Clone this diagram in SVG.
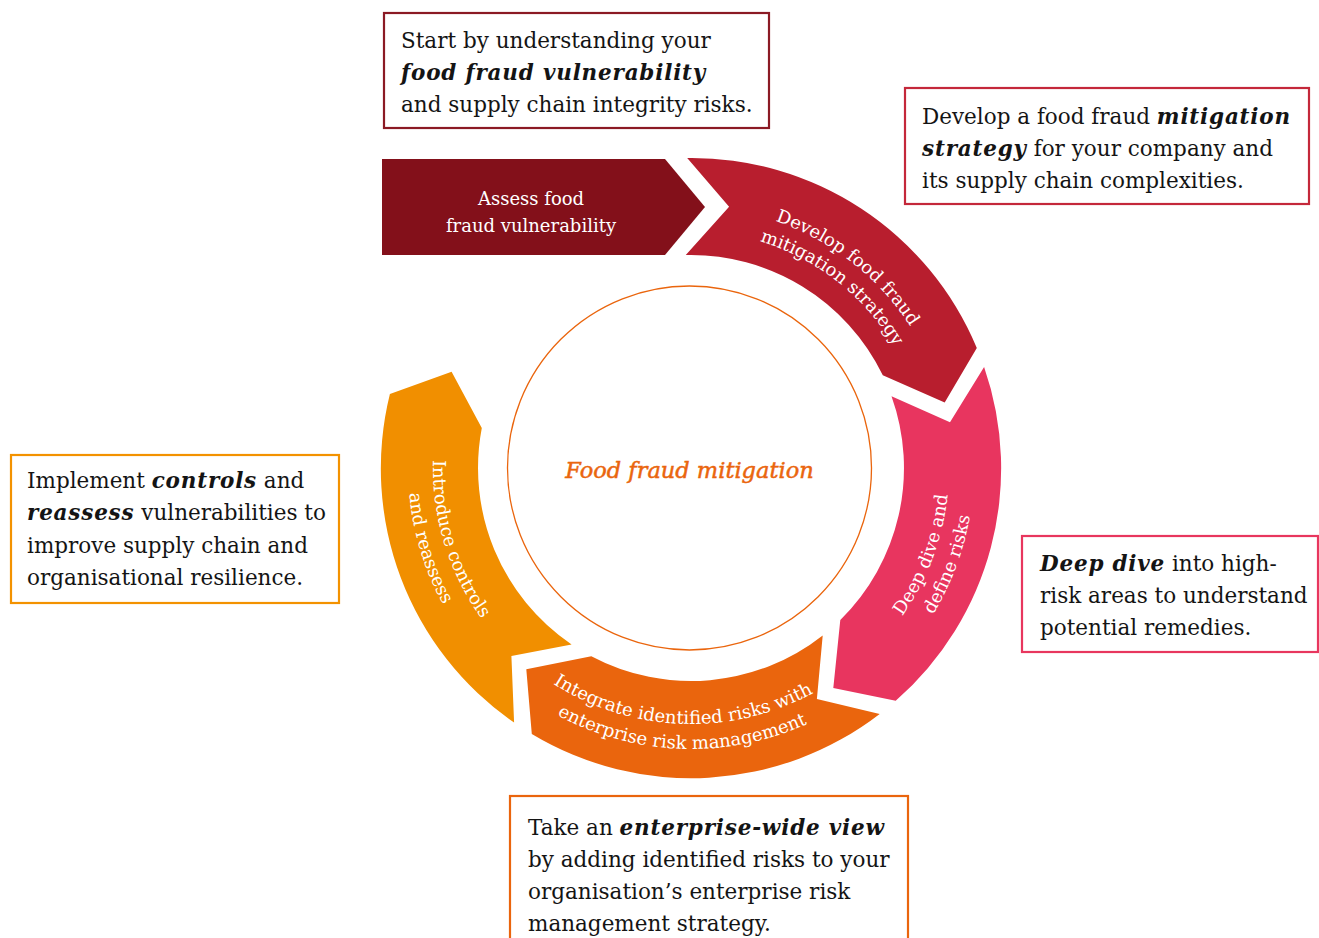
<svg xmlns="http://www.w3.org/2000/svg" width="1319" height="938" viewBox="0 0 1319 938">
<style>
.box{fill:#fff;stroke-width:2.2}
.bt{font-family:"DejaVu Serif","Liberation Serif",serif;font-size:21.5px;fill:#141414}
.bi{font-weight:bold;font-style:italic;letter-spacing:0.8px}
.seg{stroke:none}
.lbl{font-family:"DejaVu Serif","Liberation Serif",serif;font-size:18px;fill:#fff}
</style>
<defs>
<path id="pDev1" d="M727.3,209.5 A261,261 0 0 1 933.0,370.2"/>
<path id="pDev2" d="M724.0,233.3 A237,237 0 0 1 910.7,379.2"/>
<path id="pPink1" d="M855.1,667.1 A258,258 0 0 0 945.5,425.4"/>
<path id="pPink2" d="M871.0,686.4 A283,283 0 0 0 970.1,421.3"/>
<path id="pInt1" d="M519.7,658.2 A256,256 0 0 0 848.6,669.7"/>
<path id="pInt2" d="M503.0,676.8 A281,281 0 0 0 864.0,689.4"/>
<path id="pCtl1" d="M445.6,388.3 A258,258 0 0 0 532.2,671.3"/>
<path id="pCtl2" d="M421.9,380.6 A283,283 0 0 0 516.8,691.0"/>
</defs>

<g id="node-center">
<circle cx="689.5" cy="468" r="182" fill="#fff" stroke="#ea650d" stroke-width="1.3"/>
<text x="689.5" y="478" text-anchor="middle" font-family="DejaVu Serif, Liberation Serif, serif" font-size="22.5" font-style="italic" fill="#ea650d" stroke="#ea650d" stroke-width="0.5">Food fraud mitigation</text>
</g>

<g id="node-assess">
<path class="seg" fill="#83101a" d="M382,159 L665,159 L705,207 L665,255 L382,255 Z"/>
<text class="lbl" x="531" y="205" text-anchor="middle">Assess food</text>
<text class="lbl" x="531" y="232" text-anchor="middle">fraud vulnerability</text>
</g>

<g id="node-develop">
<path class="seg" fill="#b81e2e" d="M687.2,158 A309,309 0 0 1 976.8,347.9 L944.7,402.4 L882.8,375.3 A213,213 0 0 0 685.8,255.1 L729.1,206.8 Z"/>
<text class="lbl"><textPath href="#pDev1" startOffset="50%" text-anchor="middle">Develop food fraud</textPath></text>
<text class="lbl"><textPath href="#pDev2" startOffset="50%" text-anchor="middle">mitigation strategy</textPath></text>
</g>

<g id="node-deepdive">
<path class="seg" fill="#e8355f" d="M984.1,367.1 A309,309 0 0 1 895.7,700.8 L833.3,688.0 L840.3,619.9 A213,213 0 0 0 891.5,396.2 L950.0,422.3 Z"/>
<text class="lbl"><textPath href="#pPink1" startOffset="50%" text-anchor="middle">Deep dive and</textPath></text>
<text class="lbl"><textPath href="#pPink2" startOffset="50%" text-anchor="middle">define risks</textPath></text>
</g>

<g id="node-integrate">
<path class="seg" fill="#ea650d" d="M879.7,713.9 A309,309 0 0 1 531.8,734.0 L526.3,669.2 L591.3,656.2 A213,213 0 0 0 822.7,635.4 L816.9,698.9 Z"/>
<text class="lbl"><textPath href="#pInt1" startOffset="50%" text-anchor="middle">Integrate identified risks with</textPath></text>
<text class="lbl"><textPath href="#pInt2" startOffset="50%" text-anchor="middle">enterprise risk management</textPath></text>
</g>

<g id="node-controls">
<path class="seg" fill="#f18f00" d="M514.1,722.6 A309,309 0 0 1 389.9,394.1 L451.6,371.8 L481.8,428.1 A213,213 0 0 0 571.6,644.4 L511.4,656.0 Z"/>
<text class="lbl"><textPath href="#pCtl1" startOffset="50%" text-anchor="middle">Introduce controls</textPath></text>
<text class="lbl"><textPath href="#pCtl2" startOffset="50%" text-anchor="middle">and reassess</textPath></text>
</g>

<g id="node-box-assess">
<rect class="box" x="384" y="13" width="385" height="115" stroke="#8b1a24"/>
<text class="bt" x="401" y="48">Start by understanding your</text>
<text class="bt bi" x="401" y="80">food fraud vulnerability</text>
<text class="bt" x="401" y="112">and supply chain integrity risks.</text>
</g>

<g id="node-box-develop">
<rect class="box" x="905" y="88" width="404" height="116" stroke="#c4283a"/>
<text class="bt" x="922" y="124">Develop a food fraud <tspan class="bi">mitigation</tspan></text>
<text class="bt" x="922" y="156"><tspan class="bi">strategy</tspan> for your company and</text>
<text class="bt" x="922" y="188">its supply chain complexities.</text>
</g>

<g id="node-box-controls">
<rect class="box" x="11" y="455" width="328" height="148" stroke="#f39200"/>
<text class="bt" x="27" y="488">Implement <tspan class="bi">controls</tspan> and</text>
<text class="bt" x="27" y="520"><tspan class="bi">reassess</tspan> vulnerabilities to</text>
<text class="bt" x="27" y="553">improve supply chain and</text>
<text class="bt" x="27" y="585">organisational resilience.</text>
</g>

<g id="node-box-deepdive">
<rect class="box" x="1022" y="536" width="296" height="116" stroke="#e8365e"/>
<text class="bt" x="1040" y="571"><tspan class="bi">Deep dive</tspan> into high-</text>
<text class="bt" x="1040" y="603">risk areas to understand</text>
<text class="bt" x="1040" y="635">potential remedies.</text>
</g>

<g id="node-box-integrate">
<rect class="box" x="510" y="796" width="398" height="160" stroke="#ea650d"/>
<text class="bt" x="528" y="835">Take an <tspan class="bi">enterprise-wide view</tspan></text>
<text class="bt" x="528" y="867">by adding identified risks to your</text>
<text class="bt" x="528" y="899">organisation’s enterprise risk</text>
<text class="bt" x="528" y="931">management strategy.</text>
</g>

<g id="connectors"></g>
</svg>
